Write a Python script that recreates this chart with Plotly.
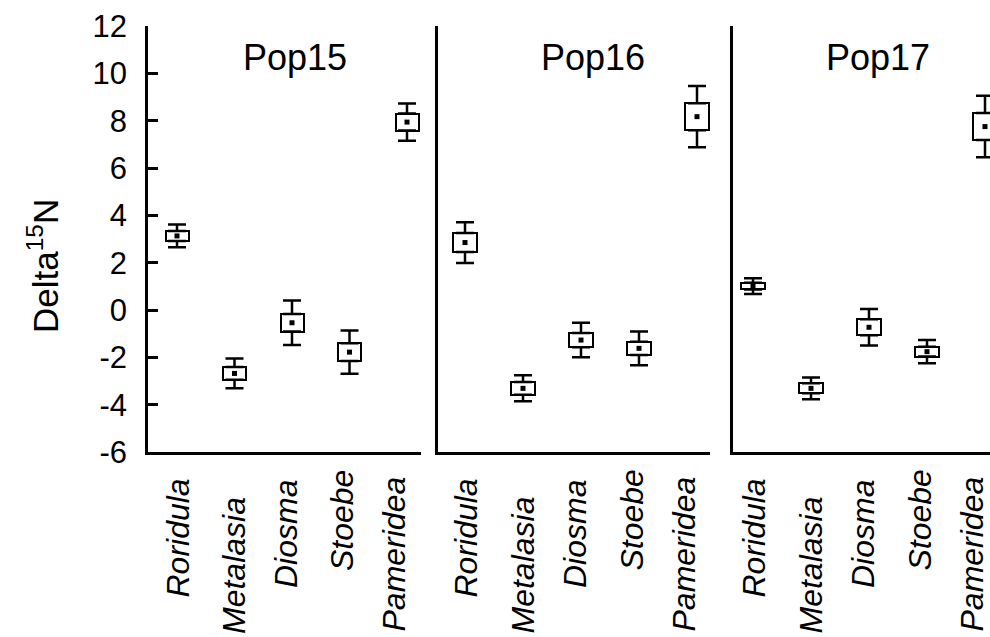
import plotly.graph_objects as go

# ---------------- data ----------------
categories = ["Roridula", "Metalasia", "Diosma", "Stoebe", "Pameridea"]
populations = ["Pop15", "Pop16", "Pop17"]

pop15_mean = [3.13, -2.68, -0.54, -1.78, 7.94]
pop15_box = [0.21, 0.27, 0.37, 0.37, 0.36]
pop15_whisker = [0.48, 0.63, 0.94, 0.91, 0.79]

pop16_mean = [2.85, -3.31, -1.27, -1.62, 8.17]
pop16_box = [0.40, 0.27, 0.30, 0.28, 0.57]
pop16_whisker = [0.86, 0.55, 0.73, 0.71, 1.29]

pop17_mean = [1.01, -3.31, -0.73, -1.76, 7.75]
pop17_box = [0.14, 0.21, 0.34, 0.21, 0.57]
pop17_whisker = [0.33, 0.46, 0.77, 0.49, 1.30]

y_tick_values = [-6, -4, -2, 0, 2, 4, 6, 8, 10, 12]
y_tick_labels = ["-6", "-4", "-2", "0", "2", "4", "6", "8", "10", "12"]
y_title = "Delta<sup>15</sup>N"

# ---------------- layout constants ----------------
W, H = 990, 637
FONT = "Liberation Sans, Arial, sans-serif"
panel_px = [(148, 421), (438, 710), (733, 990)]
cat_first_px = [177, 465, 753]
cat_step_px = [57.5, 58, 58]
title_center_px = [295, 593, 878]
y_top_px, y_bot_px = 26, 452
label_top_px = [477, 495, 478, 468, 475]
label_xshift = [0, -1, -6, -8, -14]

series = [
    (pop15_mean, pop15_box, pop15_whisker),
    (pop16_mean, pop16_box, pop16_whisker),
    (pop17_mean, pop17_box, pop17_whisker),
]

fig = go.Figure()
annotations = []
ydom = [1 - y_bot_px / H, 1 - y_top_px / H]

for i, (means, box, whisk) in enumerate(series):
    n = "" if i == 0 else str(i + 1)
    xa, ya = "x" + n, "y" + n
    lo = [m - b for m, b in zip(means, box)]
    hi = [m + b for m, b in zip(means, box)]
    ext = [w - b for w, b in zip(whisk, box)]
    zeros = [0] * len(means)

    fig.add_trace(go.Bar(
        x=categories, y=[2 * b for b in box], base=lo, width=0.4,
        marker=dict(color="white", line=dict(color="black", width=2)),
        xaxis=xa, yaxis=ya, showlegend=False,
    ))
    fig.add_trace(go.Scatter(
        x=categories, y=hi, mode="markers",
        marker=dict(size=1, color="rgba(0,0,0,0)"),
        error_y=dict(type="data", symmetric=False, array=ext, arrayminus=zeros,
                     width=9, thickness=2.5, color="black"),
        xaxis=xa, yaxis=ya, showlegend=False, cliponaxis=False,
    ))
    fig.add_trace(go.Scatter(
        x=categories, y=lo, mode="markers",
        marker=dict(size=1, color="rgba(0,0,0,0)"),
        error_y=dict(type="data", symmetric=False, array=zeros, arrayminus=ext,
                     width=9, thickness=2.5, color="black"),
        xaxis=xa, yaxis=ya, showlegend=False, cliponaxis=False,
    ))
    fig.add_trace(go.Scatter(
        x=categories, y=means, mode="markers",
        marker=dict(symbol="square", size=5, color="black"),
        xaxis=xa, yaxis=ya, showlegend=False, cliponaxis=False,
    ))

    x0, x1 = panel_px[i]
    c0, st = cat_first_px[i], cat_step_px[i]
    xr = [(x0 - c0) / st, (x1 - c0) / st]
    fig.layout["xaxis" + n] = dict(
        domain=[x0 / W, x1 / W], range=xr, type="category",
        categoryorder="array", categoryarray=categories,
        showline=True, linecolor="black", linewidth=2.5,
        showticklabels=False, ticks="", showgrid=False, zeroline=False,
        anchor=ya, fixedrange=True, automargin=False,
    )
    yax = dict(
        domain=ydom, range=[-6, 12], showline=True, linecolor="black",
        linewidth=2.5, showgrid=False, zeroline=False, anchor=xa,
        automargin=False,
    )
    if i == 0:
        yax.update(ticks="inside", tickmode="array", tickvals=y_tick_values,
                   ticktext=y_tick_labels, ticklen=10,
                   tickwidth=2.5, tickcolor="black",
                   tickfont=dict(family=FONT, size=31, color="black"),
                   ticklabelstandoff=12)
    else:
        yax.update(ticks="", showticklabels=False)
    fig.layout["yaxis" + n] = yax

    annotations.append(dict(
        text=populations[i], xref="paper", yref="paper",
        x=title_center_px[i] / W, y=1 - 57 / H, xanchor="center", yanchor="middle",
        showarrow=False, font=dict(family=FONT, size=36, color="black"),
    ))
    for j, cat in enumerate(categories):
        annotations.append(dict(
            text="<i>" + cat + "</i>", xref=xa, yref="paper",
            x=cat, y=1 - label_top_px[j] / H, xanchor="center", yanchor="top",
            xshift=label_xshift[j], textangle=-90, showarrow=False,
            font=dict(family=FONT, size=32, color="black"),
        ))

annotations.append(dict(
    text=y_title, xref="paper", yref="paper", x=43 / W, y=1 - 266 / H,
    xanchor="center", yanchor="middle", textangle=-90, showarrow=False,
    font=dict(family=FONT, size=35, color="black"),
))

fig.update_layout(
    width=W, height=H, margin=dict(l=0, r=0, t=0, b=0, autoexpand=False),
    paper_bgcolor="white", plot_bgcolor="white",
    annotations=annotations, showlegend=False, bargap=0,
)

fig.write_html("out.html", config={"displayModeBar": False},
               post_script="document.body.style.margin='0px';")
